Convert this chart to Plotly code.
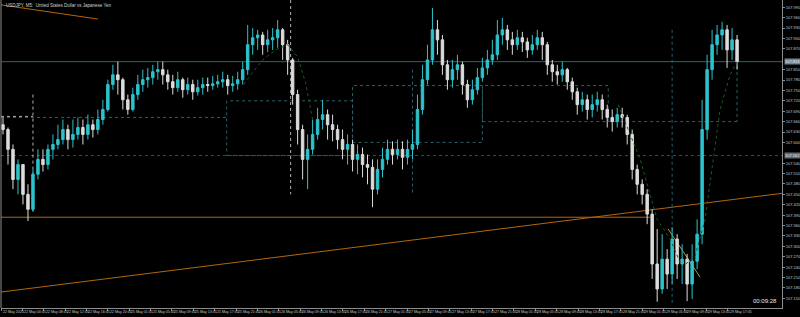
import plotly.graph_objects as go

# ---------------- data (USDJPY M5, sampled) ----------------
first_open = 107.651
closes = [107.637,107.580,107.493,107.536,107.450,107.407,107.508,107.551,107.536,107.580,
          107.594,107.608,107.637,107.608,107.623,107.643,107.623,107.651,107.637,107.666,
          107.695,107.767,107.795,107.781,107.723,107.695,107.738,107.767,107.781,107.787,
          107.804,107.810,107.795,107.775,107.758,107.781,107.752,107.767,107.746,107.758,
          107.767,107.764,107.769,107.775,107.781,107.764,107.769,107.781,107.810,107.882,
          107.902,107.910,107.882,107.896,107.902,107.925,107.882,107.838,107.738,107.637,
          107.551,107.580,107.623,107.666,107.680,107.651,107.637,107.608,107.580,107.594,
          107.551,107.565,107.536,107.528,107.465,107.522,107.551,107.580,107.565,107.580,
          107.557,107.580,107.594,107.695,107.781,107.838,107.925,107.896,107.824,107.781,
          107.810,107.824,107.767,107.723,107.752,107.787,107.815,107.838,107.853,107.910,
          107.925,107.896,107.882,107.902,107.890,107.867,107.882,107.902,107.882,107.824,
          107.804,107.795,107.810,107.775,107.746,107.709,107.723,107.695,107.709,107.723,
          107.695,107.672,107.660,107.680,107.672,107.623,107.522,107.479,107.450,107.393,
          107.249,107.177,107.263,107.220,107.321,107.249,107.263,107.191,107.257,107.335,
          107.637,107.810,107.882,107.910,107.925,107.867,107.896,107.833]
highs = [107.672,107.643,107.594,107.551,107.536,107.479,107.522,107.580,107.580,107.594,
         107.623,107.651,107.666,107.651,107.666,107.672,107.666,107.680,107.666,107.695,
         107.723,107.781,107.824,107.833,107.787,107.738,107.758,107.795,107.810,107.815,
         107.824,107.833,107.833,107.810,107.795,107.804,107.787,107.787,107.781,107.781,
         107.787,107.787,107.792,107.795,107.804,107.795,107.792,107.804,107.833,107.939,
         107.930,107.925,107.919,107.925,107.930,107.953,107.930,107.896,107.844,107.752,
         107.651,107.623,107.666,107.700,107.723,107.695,107.680,107.651,107.637,107.623,
         107.608,107.594,107.585,107.565,107.551,107.551,107.585,107.608,107.603,107.608,
         107.603,107.608,107.637,107.738,107.824,107.882,107.988,107.953,107.910,107.838,
         107.838,107.853,107.833,107.781,107.781,107.815,107.844,107.867,107.896,107.953,
         107.959,107.939,107.919,107.925,107.919,107.902,107.910,107.925,107.919,107.890,
         107.838,107.824,107.833,107.815,107.787,107.758,107.746,107.738,107.738,107.746,
         107.738,107.709,107.695,107.700,107.700,107.680,107.637,107.536,107.493,107.465,
         107.407,107.350,107.335,107.292,107.355,107.335,107.306,107.278,107.306,107.378,
         107.723,107.853,107.925,107.939,107.948,107.939,107.930,107.910]
lows = [107.623,107.536,107.465,107.450,107.421,107.373,107.401,107.493,107.516,107.522,
        107.551,107.580,107.594,107.580,107.585,107.608,107.594,107.608,107.614,107.623,
        107.651,107.689,107.752,107.738,107.695,107.680,107.689,107.723,107.746,107.758,
        107.767,107.781,107.767,107.752,107.738,107.746,107.729,107.738,107.723,107.735,
        107.738,107.746,107.752,107.758,107.758,107.738,107.746,107.752,107.767,107.795,
        107.853,107.867,107.853,107.861,107.867,107.873,107.838,107.795,107.709,107.594,
        107.493,107.465,107.565,107.608,107.637,107.608,107.603,107.580,107.551,107.536,
        107.516,107.508,107.499,107.479,107.413,107.450,107.499,107.536,107.536,107.551,
        107.522,107.536,107.551,107.580,107.680,107.767,107.824,107.853,107.795,107.752,
        107.758,107.781,107.738,107.700,107.709,107.738,107.775,107.795,107.824,107.838,
        107.882,107.867,107.853,107.867,107.861,107.844,107.853,107.867,107.838,107.795,
        107.775,107.767,107.775,107.752,107.723,107.680,107.689,107.666,107.672,107.689,
        107.666,107.643,107.631,107.643,107.643,107.594,107.493,107.450,107.421,107.364,
        107.206,107.140,107.163,107.177,107.191,107.206,107.191,107.142,107.148,107.234,
        107.306,107.608,107.781,107.853,107.867,107.815,107.838,107.810]
opens = [first_open] + closes[:-1]
bars = list(range(len(closes)))

# moving-average pieces visible on the chart (bar index, price); None = gap
ma_idx = [48.2, 49.6, 52, 54.6, 57, 59, 60.6, 62, None,
          123.2, 127.6, 131, 133.6, 136, 138.6, 140.6, 142, 143.6, 145.6, 147]
ma_val = [107.767, 107.795, 107.838, 107.867, 107.882, 107.847, 107.772, 107.666, None,
          107.709, 107.551, 107.378, 107.321, 107.240, 107.272, 107.378, 107.522, 107.695, 107.795, 107.833]

x_labels = ["22 May 2020", "22 May 04:45", "22 May 08:45", "22 May 12:45", "22 May 16:45",
            "22 May 20:45", "25 May 01:45", "25 May 05:45", "25 May 09:45", "25 May 13:45",
            "25 May 17:45", "25 May 21:45", "26 May 01:45", "26 May 05:45", "26 May 09:45",
            "26 May 13:45", "26 May 17:45", "26 May 21:45", "27 May 01:45", "27 May 05:45",
            "27 May 09:45", "27 May 13:45", "27 May 17:45", "27 May 21:45", "28 May 01:45",
            "28 May 05:45", "28 May 09:45", "28 May 13:45", "28 May 17:45", "28 May 21:45",
            "29 May 01:45", "29 May 05:45", "29 May 09:45", "29 May 13:45", "29 May 17:45"]

# horizontal levels / drawn objects (price levels)
bid_level = closes[-1]
dotted_level = 107.562
orange_level = 107.384
trend_start, trend_end = 107.168, 107.453
top_line_start, top_line_end = 107.997, 107.956
short_line_start, short_line_end = 107.350, 107.211
boxes = [(44.8, 70, 107.562, 107.720), (70, 96, 107.600, 107.764), (96, 121.2, 107.660, 107.764)]

# ---------------- figure ----------------
BULL = "#2cc3cc"
BEAR = "#dcdcdc"
ORANGE = "#b8650c"
TEAL = "#2c6068"
AXIS = "#8c8c8c"
TXT = "#c8c8c8"

X0, X1 = -0.4, 156
Y0, Y1 = 107.122, 108.011

fig = go.Figure()
fig.add_trace(go.Candlestick(
    x=bars, open=opens, high=highs, low=lows, close=closes,
    increasing=dict(line=dict(color=BULL, width=1), fillcolor=BULL),
    decreasing=dict(line=dict(color=BEAR, width=1), fillcolor=BEAR),
    whiskerwidth=0, showlegend=False, hoverinfo="skip"))
fig.add_trace(go.Scatter(x=ma_idx, y=ma_val, mode="lines", connectgaps=False,
                         line=dict(color="#1c5a1c", width=1, dash="dot"),
                         showlegend=False, hoverinfo="skip"))

shapes = []
def seg(xa, ya, xb, yb, color, dash="solid", width=1):
    shapes.append(dict(type="line", xref="x", yref="y", x0=xa, y0=ya, x1=xb, y1=yb,
                       line=dict(color=color, width=width, dash=dash), layer="below"))

seg(X0, bid_level, X1, bid_level, "#35606e")
seg(X0, dotted_level, X1, dotted_level, "#3a4a50", "dot")
seg(X0, orange_level, 129.6, orange_level, ORANGE)
seg(X0, trend_start, X1, trend_end, ORANGE)
seg(X0, top_line_start, 19, top_line_end, ORANGE)
seg(133.2, short_line_start, 139.6, short_line_end, "#a89a3a")
# vertical dotted markers
seg(6, 107.738, 6, 107.393, "#b0b0b0", "dot")
seg(X0, 107.675, 6, 107.675, "#b0b0b0", "dot")
seg(57.6, Y1, 57.6, 107.450, "#b0b0b0", "dot")
seg(82, 107.810, 82, 107.450, TEAL, "dot")
seg(134, 107.925, 134, 107.134, TEAL, "dot")
seg(147, 107.838, 147, 107.660, TEAL, "dot")
seg(X0, 107.672, 44.8, 107.672, TEAL, "dot")
seg(121.2, 107.660, 147, 107.660, TEAL, "dot")
for (xa, xb, ya, yb) in boxes:
    shapes.append(dict(type="rect", xref="x", yref="y", x0=xa, x1=xb, y0=ya, y1=yb,
                       line=dict(color=TEAL, width=1, dash="dot"), layer="below"))
# left border
shapes.append(dict(type="line", xref="paper", yref="paper", x0=0, x1=0, y0=0, y1=1,
                   line=dict(color=AXIS, width=1)))

step = 0.030
ytick_all = [107.150 + step * k for k in range(29)]
# labels hidden behind the highlighted price boxes are left out
ytick_vals = [v for v in ytick_all
              if abs(v - bid_level) > 0.012 and abs(v - dotted_level) > 0.012]
ytick_text = [f"{v:.3f}" for v in ytick_vals]
xtick_vals = [X0 + k * 4.28 for k in range(len(x_labels))]

FONT = "Liberation Sans Narrow, Liberation Sans, DejaVu Sans"
annotations = [
    dict(xref="paper", yref="paper", x=0.004, y=0.997, xanchor="left", yanchor="top",
         text="USDJPY, M5:  United States Dollar vs Japanese Yen", showarrow=False,
         font=dict(size=4.5, color="#d0d0d0", family=FONT)),
    dict(xref="paper", yref="paper", x=0.996, y=0.005, xanchor="right", yanchor="bottom",
         text="00:09:28", showarrow=False, font=dict(size=6, color="#e8e8e8", family=FONT)),
    dict(xref="paper", yref="y", x=1.002, y=bid_level, xanchor="left", yanchor="middle",
         text=f"{bid_level:.3f}", showarrow=False, bgcolor="#6f8494",
         font=dict(size=4, color="#f0f0f0", family=FONT), borderpad=0),
    dict(xref="paper", yref="y", x=1.002, y=dotted_level, xanchor="left", yanchor="middle",
         text=f"{dotted_level:.3f}", showarrow=False, bgcolor="#5d6a72",
         font=dict(size=4, color="#f0f0f0", family=FONT), borderpad=0),
]
# time labels, left-aligned at their tick like the terminal does
for xv, lab in zip(xtick_vals, x_labels):
    annotations.append(dict(xref="x", yref="paper", x=xv, y=0, xanchor="left", yanchor="top",
                            yshift=-1, xshift=1, text=lab, showarrow=False, borderpad=0,
                            font=dict(size=3.6, color=TXT, family=FONT)))

fig.update_layout(
    width=800, height=317,
    margin=dict(l=1, r=18, t=0, b=9, autoexpand=False),
    paper_bgcolor="#000000", plot_bgcolor="#000000",
    shapes=shapes, hovermode=False,
    font=dict(family=FONT, size=4, color=TXT),
    xaxis=dict(range=[X0, X1], rangeslider=dict(visible=False), showgrid=False, zeroline=False,
               tickmode="array", tickvals=xtick_vals, showticklabels=False,
               ticks="outside", ticklen=2, tickcolor=AXIS,
               showline=True, linecolor=AXIS, linewidth=1, automargin=False),
    yaxis=dict(range=[Y0, Y1], side="right", showgrid=False, zeroline=False,
               tickmode="array", tickvals=ytick_vals, ticktext=ytick_text,
               ticks="outside", ticklen=2, tickcolor=AXIS,
               showline=True, linecolor=AXIS, linewidth=1, automargin=False,
               tickfont=dict(size=4, color=TXT, family=FONT)),
    annotations=annotations,
)

fig.write_html("out.html")
